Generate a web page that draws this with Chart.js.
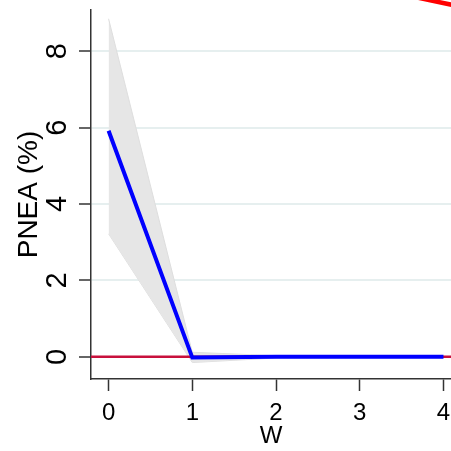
<!DOCTYPE html>
<html>
<head>
<meta charset="utf-8">
<script src="https://cdn.jsdelivr.net/npm/chart.js@4"></script>
<style>
  body { margin: 0; background: #fff; }
  canvas { display: block; }
</style>
</head>
<body>
<canvas id="myChart" width="451" height="451"></canvas>
<script>
// data
var weeks = [0, 1, 2, 3, 4];
var pneaMean = [5.92, -0.02, 0, 0, 0];
var pneaUpper = [8.85, 0.12, 0.03, 0.02, 0.02];
var pneaLower = [3.22, -0.15, -0.03, -0.02, -0.02];
var xTicks = [0, 1, 2, 3, 4];
var yTicks = [0, 2, 4, 6, 8];
var xRange = [-0.21, 4.09];
var yRange = [-0.58, 9.08];
var refLevel = 0;
// red stroke that leaves the plot at the top right corner
var strayX = [3.7, 4.2];
var strayY = [9.4, 9.17];

function pts(xs, ys) {
    return xs.map(function (x, i) { return { x: x, y: ys[i] }; });
}

var fam = "'Liberation Sans', Arial, sans-serif";

const ctx = document.getElementById('myChart').getContext('2d');
const myChart = new Chart(ctx, {
    type: 'line',
    data: {
        datasets: [
            {
                data: pts(weeks, pneaMean),
                borderColor: '#0000ff',
                borderWidth: 4,
                pointRadius: 0,
                fill: false,
                order: 0
            },
            {
                data: pts(xRange, [refLevel, refLevel]),
                borderColor: '#c8103c',
                borderWidth: 2.5,
                pointRadius: 0,
                fill: false,
                order: 1
            },
            {
                data: pts(weeks, pneaUpper),
                borderColor: '#dedede',
                borderWidth: 1,
                backgroundColor: '#e6e6e6',
                pointRadius: 0,
                fill: '+1',
                order: 2
            },
            {
                data: pts(weeks, pneaLower),
                borderColor: '#dedede',
                borderWidth: 1,
                pointRadius: 0,
                fill: false,
                order: 3
            },
            {
                data: pts(strayX, strayY),
                borderColor: '#ff0000',
                borderWidth: 4.5,
                pointRadius: 0,
                fill: false,
                clip: false,
                order: 4
            }
        ]
    },
    options: {
        responsive: false,
        animation: false,
        layout: { padding: { top: 10, right: 0, left: 0, bottom: 0 } },
        plugins: {
            legend: { display: false },
            tooltip: { enabled: false }
        },
        scales: {
            x: {
                type: 'linear',
                min: xRange[0],
                max: xRange[1],
                afterBuildTicks: function (scale) {
                    scale.ticks = xTicks.map(function (v) { return { value: v }; });
                },
                afterFit: function (scale) {
                    scale.height = 72;
                    scale.paddingLeft = 0;
                    scale.paddingRight = 0;
                },
                ticks: {
                    color: '#000',
                    font: { family: fam, size: 24 },
                    padding: 8,
                    maxRotation: 0,
                    minRotation: 0
                },
                grid: {
                    drawOnChartArea: false,
                    drawTicks: true,
                    tickLength: 12,
                    tickColor: '#333',
                    tickWidth: 1.5
                },
                border: { display: true, color: '#333', width: 1.5 },
                title: {
                    display: true,
                    text: 'W',
                    color: '#000',
                    font: { family: fam, size: 24, lineHeight: 1.1 },
                    padding: { top: 0, bottom: 1 }
                }
            },
            y: {
                min: yRange[0],
                max: yRange[1],
                afterBuildTicks: function (scale) {
                    scale.ticks = yTicks.map(function (v) { return { value: v }; });
                },
                afterFit: function (scale) {
                    scale.width = 91;
                    scale.paddingTop = 0;
                    scale.paddingBottom = 0;
                },
                ticks: {
                    color: '#000',
                    font: { family: fam, size: 29 },
                    padding: 13,
                    minRotation: 90,
                    maxRotation: 90,
                    crossAlign: 'center'
                },
                grid: {
                    color: '#e6efef',
                    lineWidth: 2,
                    tickLength: 12,
                    tickColor: '#333',
                    tickWidth: 1.5
                },
                border: { display: true, color: '#333', width: 1.5 },
                title: {
                    display: true,
                    text: 'PNEA (%)',
                    color: '#000',
                    font: { family: fam, size: 28, lineHeight: 1.2 },
                    padding: { top: 12, bottom: 0 }
                }
            }
        }
    }
});
</script>
</body>
</html>
